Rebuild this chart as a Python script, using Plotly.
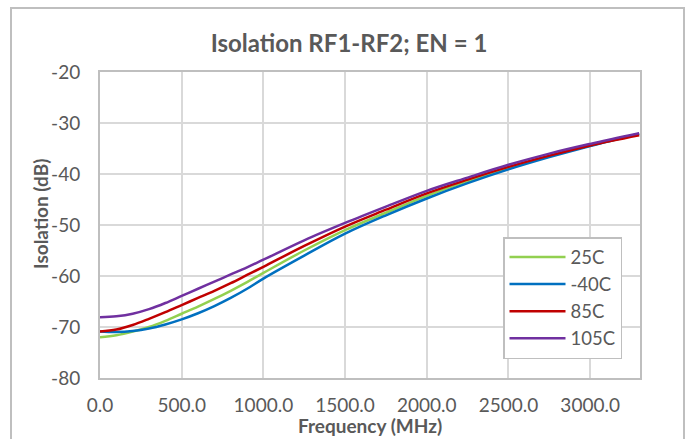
import plotly.graph_objects as go

freq = [0, 100, 200, 300, 400, 500, 600, 700, 800, 900, 1000, 1250, 1500, 1750, 2000, 2250, 2500, 2750, 3000, 3300]
iso_25c = [-72.0, -71.6, -70.9, -70.0, -68.8, -67.4, -66.0, -64.5, -62.9, -61.2, -59.4, -55.0, -51.0, -47.6, -44.3, -41.4, -38.8, -36.5, -34.4, -32.2]
iso_m40c = [-70.9, -71.0, -70.8, -70.3, -69.5, -68.5, -67.3, -65.9, -64.3, -62.5, -60.5, -56.0, -51.7, -48.1, -44.8, -41.8, -39.1, -36.7, -34.5, -32.1]
iso_85c = [-70.9, -70.5, -69.6, -68.4, -67.1, -65.7, -64.3, -62.9, -61.4, -59.8, -58.2, -54.1, -50.3, -47.0, -43.8, -41.1, -38.6, -36.4, -34.4, -32.4]
iso_105c = [-68.1, -67.9, -67.4, -66.5, -65.3, -63.9, -62.5, -61.1, -59.7, -58.3, -56.8, -53.0, -49.6, -46.4, -43.3, -40.7, -38.2, -36.0, -34.1, -32.0]

series = [
    ("25C", iso_25c, "#92d050"),
    ("-40C", iso_m40c, "#0070c0"),
    ("85C", iso_85c, "#c00000"),
    ("105C", iso_105c, "#7030a0"),
]

x_ticks = [0, 500, 1000, 1500, 2000, 2500, 3000]
x_ticklabels = ["0.0", "500.0", "1000.0", "1500.0", "2000.0", "2500.0", "3000.0"]
y_ticks = [-80, -70, -60, -50, -40, -30, -20]
y_ticklabels = ["-80", "-70", "-60", "-50", "-40", "-30", "-20"]

fig = go.Figure()
for name, vals, color in series:
    fig.add_trace(go.Scatter(x=freq, y=vals, name=name, mode="lines",
                             line=dict(color=color, width=2.5, shape="spline", smoothing=1.0)))

font_family = "Lato"
gray = "#595959"
L, R, T, B = 100, 640, 72, 378
PW, PH = R - L, B - T

fig.update_layout(
    width=691, height=439,
    margin=dict(l=L, r=691 - R, t=T, b=439 - B, autoexpand=False),
    paper_bgcolor="white", plot_bgcolor="white",
    title=dict(text="<b>Isolation RF1-RF2; EN = 1</b>", x=349 / 691, xanchor="center",
               y=1 - 44 / 439, yanchor="middle", yref="container", xref="container",
               font=dict(family=font_family, size=24, color=gray)),
    font=dict(family=font_family, color=gray),
    showlegend=True,
    legend=dict(x=(503 - L) / PW, y=(B - 237) / PH, xanchor="left", yanchor="top",
                bgcolor="white", bordercolor="#bfbfbf", borderwidth=1.5,
                font=dict(family=font_family, size=18.5, color=gray),
                tracegroupgap=0, itemwidth=56),
    xaxis=dict(range=[0, 3305], tickvals=x_ticks, ticktext=x_ticklabels,
               showgrid=True, gridcolor="#d9d9d9", gridwidth=2,
               showline=True, linecolor="#bfbfbf", linewidth=2, mirror=True,
               ticks="outside", ticklen=9, tickcolor="rgba(0,0,0,0)",
               tickfont=dict(family=font_family, size=19, color=gray),
               zeroline=False, automargin=False),
    yaxis=dict(range=[-80, -20], tickvals=y_ticks, ticktext=y_ticklabels,
               showgrid=True, gridcolor="#d9d9d9", gridwidth=2,
               showline=True, linecolor="#bfbfbf", linewidth=2, mirror=True,
               ticks="outside", ticklen=14, tickcolor="rgba(0,0,0,0)",
               tickfont=dict(family=font_family, size=19, color=gray),
               zeroline=False, automargin=False),
    annotations=[
        dict(text="<b>Frequency (MHz)</b>", xref="paper", yref="paper",
             x=(370 - L) / PW, y=(B - 426) / PH, xanchor="center", yanchor="middle",
             showarrow=False, font=dict(family=font_family, size=19, color=gray)),
        dict(text="<b>Isolation (dB)</b>", xref="paper", yref="paper",
             x=(40 - L) / PW, y=(B - 214) / PH, xanchor="center", yanchor="middle",
             textangle=-90, showarrow=False,
             font=dict(family=font_family, size=19, color=gray)),
    ],
)

fig.add_shape(type="rect", xref="paper", yref="paper",
              x0=(11 - L) / PW, x1=(684 - L) / PW,
              y0=(B - 470) / PH, y1=(B - 8) / PH,
              line=dict(color="#bfbfbf", width=2), fillcolor="rgba(0,0,0,0)", layer="below")

fig.write_html("out.html", config={"displayModeBar": False},
               post_script="document.body.style.margin='0';document.body.style.overflow='hidden';")
